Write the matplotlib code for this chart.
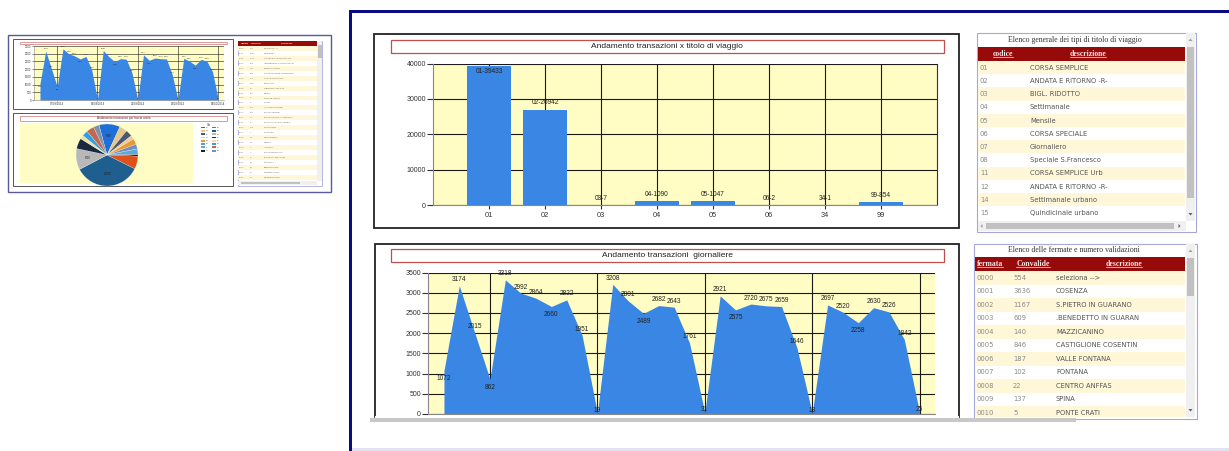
import matplotlib
matplotlib.use("Agg")
import matplotlib.pyplot as plt
from matplotlib.patches import Rectangle, Polygon
import numpy as np

W, H = 1229, 451

# transazioni per titolo di viaggio
codici_titolo = ["01", "02", "03", "04", "05", "06", "34", "99"]
transazioni_titolo = [39433, 26942, 7, 1090, 1047, 2, 1, 854]

# transazioni giornaliere
transazioni_giorno = [1072, 3174, 2015, 862, 3318, 2992, 2864, 2660, 2822, 1951, 19,
                      3208, 2801, 2489, 2682, 2643, 1761, 31,
                      2921, 2575, 2720, 2675, 2659, 1646, 18,
                      2697, 2520, 2258, 2630, 2526, 1842, 25]
date_settimane = ["07/09/2014", "14/09/2014", "21/09/2014", "28/09/2014", "05/10/2014"]

# elenco tipi di titolo
tipi_codice = ["01", "02", "03", "04", "05", "06", "07", "08", "11", "12", "14", "15"]
tipi_descr = ["CORSA SEMPLICE", "ANDATA E RITORNO -R-", "BIGL. RIDOTTO", "Settimanale",
              "Mensile", "CORSA SPECIALE", "Giornaliero", "Speciale S.Francesco",
              "CORSA SEMPLICE Urb", "ANDATA E RITORNO -R-", "Settimanale urbano",
              "Quindicinale urbano"]

# fermate e validazioni
fermate_codice = ["0000", "0001", "0002", "0003", "0004", "0005", "0006", "0007", "0008",
                  "0009", "0010", "0011", "0012", "0013", "0014", "0015", "0016", "0017",
                  "0018", "0019", "0020", "0021", "0022", "0023", "0024", "0025", "0026"]
fermate_convalide = [554, 3636, 1167, 609, 140, 846, 187, 102, 22, 137, 5, 6, 227, 274,
                     78, 8, 253, 4, 58, 147, 1, 3, 15, 90, 59, 41, 36]
fermate_descr = ["seleziona -->", "COSENZA", "S.PIETRO IN GUARANO", ".BENEDETTO IN GUARAN",
                 "MAZZICANINO", "CASTIGLIONE COSENTIN", "VALLE FONTANA", "FONTANA",
                 "CENTRO ANFFAS", "SPINA", "PONTE CRATI", "CUTRI", "AUTOSTAZIONE",
                 "BIVIO SERRE", "BIVIO SCUOLA AGRARIA", "BIVIO CASTROLIBERO", "DUCHIANO",
                 "CUCHIES", "CONCORDIA", "NARDI", "ARANIA", "BIVIO BONIFICA",
                 "BIVIO CAMPAGNE", "ROVELLA", "BUONVICINO", "COMPRANTO", "COMMISSIONI"]

# transazioni per fascia oraria (torta della miniatura)
fasce_ora = ["05", "06", "07", "08", "09", "10", "11", "12",
             "13", "14", "15", "16", "17", "18", "19", "20"]
transazioni_fascia = [7630, 2775, 2430, 1390, 2080, 1735, 2080, 555,
                      4650, 24280, 7630, 3815, 1390, 2080, 2775, 2080]
colori_fascia = ["#1f6fd8", "#e8c888", "#4a5870", "#f0c8a0", "#e89a30", "#7090c0",
                 "#60a8e0", "#202020", "#e0501a", "#1f5f8f", "#b8b8b8", "#1a2840",
                 "#f5e0a0", "#30a0e0", "#c06850", "#8090a8"]

YELLOW = "#fffcc4"
BLUE = "#3a86e4"
ROW_YELLOW = "#fff7d8"
HEAD_RED = "#960a0a"
NAVY = "#0a0a82"

plt.rcParams['font.family'] = ['Liberation Sans', 'DejaVu Sans']

fig = plt.figure(figsize=(W / 100, H / 100), dpi=100)
fig.patch.set_facecolor("white")

bg = fig.add_axes([0, 0, 1, 1], zorder=0)
bg.set_xlim(0, W)
bg.set_ylim(H, 0)
bg.axis("off")


def box(x0, y0, x1, y1):
    return [x0 / W, 1 - y1 / H, (x1 - x0) / W, (y1 - y0) / H]


def rect(x0, y0, x1, y1, fc="none", ec="none", lw=0.7, z=1):
    bg.add_patch(Rectangle((x0, y0), x1 - x0, y1 - y0, facecolor=fc,
                           edgecolor=ec, linewidth=lw, zorder=z))


def area_chart(ax, k, tick_fs, lab_fs, grid_lw, dates):
    vals = transazioni_giorno
    x = np.arange(len(vals))
    ax.set_facecolor(YELLOW)
    ax.fill_between(x, vals, 0, color=BLUE, lw=0, zorder=2)
    ax.set_xlim(-1.04, 32)
    ax.set_ylim(0, 3500)
    ax.set_yticks(range(0, 3501, 500))
    ax.set_xticks(np.arange(3, 32, 7))
    ax.grid(True, color="#1a1a1a", lw=grid_lw)
    ax.set_axisbelow(True)
    for s in ["top", "right"]:
        ax.spines[s].set_visible(False)
    for s in ["left", "bottom"]:
        ax.spines[s].set_color("#888")
        ax.spines[s].set_linewidth(grid_lw)
    ax.tick_params(axis="y", labelsize=tick_fs, colors="#333", length=4 * k,
                   width=grid_lw, pad=1 * k)
    if dates:
        ax.set_xticklabels(date_settimane)
        ax.tick_params(axis="x", labelsize=tick_fs, colors="#333", length=2 * k,
                       width=grid_lw, pad=1)
    else:
        ax.set_xticklabels([])
        ax.tick_params(axis="x", length=0)
    for i, v in enumerate(vals):
        prev = vals[i - 1] if i > 0 else v + 1
        nxt = vals[i + 1] if i < len(vals) - 1 else v + 1
        if v < 100:
            dy = 3
        elif v < prev and v < nxt:
            dy = -8
        else:
            dy = 6
        ax.annotate(str(v), (i, v), xytext=(0, dy * 0.72 * k), textcoords="offset points",
                    ha="center", va="center", fontsize=lab_fs, color="#222",
                    zorder=3, annotation_clip=False)


# ---------- cornice principale ----------
rect(349, 9.5, W + 2, 12.5, fc=NAVY)
rect(348.5, 9.5, 351.5, H + 2, fc=NAVY)
rect(352, 447.5, W + 2, H + 2, fc="#e2e2f2")

# ---------- grafico a barre: titolo di viaggio ----------
rect(374, 33.5, 959, 228, ec="#222", lw=1.3)
rect(391, 39.5, 944, 53, fc="white", ec="#c0504d", lw=0.9)
bg.text(667, 46.5, "Andamento transazioni x titolo di viaggio", ha="center", va="center",
        fontsize=6, color="#222")

axb = fig.add_axes(box(433, 63.5, 937, 205), zorder=1)
axb.set_facecolor(YELLOW)
xb = np.arange(len(codici_titolo))
axb.bar(xb, transazioni_titolo, width=0.8, color=BLUE, zorder=2)
axb.set_xlim(-1, len(codici_titolo))
axb.set_ylim(0, 40000)
axb.set_yticks(range(0, 40001, 10000))
axb.set_xticks(xb)
axb.set_xticklabels(codici_titolo)
axb.grid(True, color="#1a1a1a", lw=0.8)
axb.set_axisbelow(True)
axb.spines["top"].set_visible(False)
axb.spines["right"].set_color("#333")
axb.spines["left"].set_color("#888")
axb.spines["bottom"].set_color("#888")
for s in axb.spines.values():
    s.set_linewidth(0.8)
axb.tick_params(axis="y", labelsize=5, colors="#333", length=4, width=0.8, pad=1)
axb.tick_params(axis="x", labelsize=5.3, colors="#333", length=3, width=0.8, pad=2)
for i, v in enumerate(transazioni_titolo):
    inside = v > 0.9 * 40000
    axb.annotate(f"{codici_titolo[i]}-{v}", (i, v),
                 xytext=(0, -4.5 if inside else 5), textcoords="offset points",
                 ha="center", va="center", fontsize=4.7, color="#222", zorder=3)

# ---------- grafico ad area: transazioni giornaliere ----------
rect(375, 243.5, 959, 417, ec="#222", lw=1.3)
rect(375, 416.2, 959, 420, fc="white", z=2)
rect(391, 248.5, 944, 262, fc="white", ec="#c0504d", lw=0.9)
bg.text(667, 255.3, "Andamento transazioni  giornaliere", ha="center", va="center",
        fontsize=6, color="#222")

axd = fig.add_axes(box(428, 272.5, 935, 414), zorder=1)
area_chart(axd, 1.0, 5, 4.7, 0.8, False)

# barra di scorrimento orizzontale della pagina
rect(370, 417.5, 1076, 421.5, fc="#c8c8c8", z=3)


# ---------- tabelle ----------
def table_frame(x0, y0, x1, y1, title, ty):
    rect(x0, y0, x1, y1, fc="white", ec="#a8a8d8", lw=0.8)
    bg.text((x0 + 1185) / 2 - 6, ty, title, ha="center", va="center", fontsize=5.6,
            family="Liberation Serif", color="#333")


def v_scrollbar(x0, y0, y1, t0, t1):
    rect(x0, y0, x0 + 9, y1, fc="#f0f0f0", z=2)
    rect(x0 + 1, t0, x0 + 8, t1, fc="#c1c1c1", z=3)
    cx = x0 + 4.5
    bg.add_patch(Polygon([[cx - 2, y0 + 8], [cx + 2, y0 + 8], [cx, y0 + 5.5]],
                         closed=True, fc="#a0a0a0", ec="none", zorder=3))
    bg.add_patch(Polygon([[cx - 2, y1 - 8], [cx + 2, y1 - 8], [cx, y1 - 5.5]],
                         closed=True, fc="#606060", ec="none", zorder=3))


headers = []


def header(x0, x1, y0, y1, cols):
    rect(x0, y0, x1, y1, fc=HEAD_RED, z=2)
    for cx, lab in cols:
        t = bg.text(cx, (y0 + y1) / 2, lab, ha="center", va="center", fontsize=5.6,
                    family="Liberation Serif", weight="bold", color="#f6e2e2", zorder=4)
        headers.append(t)


# tabella tipi di titolo
table_frame(977, 32.5, 1196, 232, "Elenco generale dei tipi di titolo di viaggio", 39.5)
header(978, 1185, 47, 61, [(1003, "codice"), (1088, "descrizione")])
for i, (c, d) in enumerate(zip(tipi_codice, tipi_descr)):
    top = 61 + 13.2 * i
    if i % 2 == 0:
        rect(978, top, 1185, top + 13.2, fc=ROW_YELLOW, z=1.5)
    bg.text(980, top + 6.8, c, ha="left", va="center", fontsize=4.9, color="#8a8a8a",
            family="DejaVu Sans", zorder=3)
    bg.text(1030, top + 6.8, d, ha="left", va="center", fontsize=4.9, color="#555",
            family="DejaVu Sans", zorder=3)
v_scrollbar(1186, 33, 221, 47, 198)
rect(978, 221, 1186, 231, fc="#f0f0f0", z=2)
rect(986, 223, 1174, 229, fc="#c1c1c1", z=3)
bg.add_patch(Polygon([[982.5, 224], [982.5, 228], [980.5, 226]], closed=True,
                     fc="#a0a0a0", ec="none", zorder=3))
bg.add_patch(Polygon([[1178.5, 224], [1178.5, 228], [1180.5, 226]], closed=True,
                     fc="#606060", ec="none", zorder=3))

# tabella fermate
table_frame(974, 243.5, 1197, 419, "Elenco delle fermate e numero validazioni", 250.5)
header(975, 1185, 257, 271, [(990, "fermata"), (1033, "Convalide"), (1124, "descrizione")])
for i in range(11):
    top = 271 + 13.5 * i
    if i % 2 == 0:
        rect(975, top, 1185, min(top + 13.5, 417), fc=ROW_YELLOW, z=1.5)
    yc = top + 6.6
    bg.text(976.5, yc, fermate_codice[i], ha="left", va="center", fontsize=4.9,
            color="#8a8a8a", family="DejaVu Sans", zorder=3)
    bg.text(1013, yc, str(fermate_convalide[i]), ha="left", va="center", fontsize=4.9,
            color="#8a8a8a", family="DejaVu Sans", zorder=3)
    bg.text(1056, yc, fermate_descr[i], ha="left", va="center", fontsize=4.9,
            color="#555", family="DejaVu Sans", zorder=3)
v_scrollbar(1186, 244, 417, 258, 296)
rect(973, 417.5, 1076, 421.5, fc="#c8c8c8", z=3)

# ---------- miniatura del cruscotto ----------
rect(7.5, 34.5, 330.5, 191.5, ec="#5a5a9a", lw=1)

# area giornaliera in miniatura
rect(12.5, 38.5, 232.5, 109, ec="#555", lw=0.7)
rect(20, 41.5, 227, 43.5, fc="white", ec="#c0504d", lw=0.4)
axm = fig.add_axes(box(34, 46, 224, 100), zorder=1)
area_chart(axm, 0.38, 2.0, 1.5, 0.4, True)

# torta per fascia oraria
rect(12.5, 112.5, 232.5, 186, ec="#555", lw=0.7)
rect(20, 115.5, 227, 120.5, fc="white", ec="#c0504d", lw=0.4)
bg.text(124, 118, "Andamento transazioni per fascia oraria", ha="center", va="center",
        fontsize=2.2, color="#333")
rect(20, 122.5, 193, 183, fc=YELLOW)
axp = fig.add_axes(box(76, 124, 138, 186), zorder=1)
wedges, _ = axp.pie(transazioni_fascia, colors=colori_fascia, startangle=105,
                    counterclock=False, wedgeprops=dict(linewidth=0.15, edgecolor="white"))
axp.set_xlim(-1, 1)
axp.set_ylim(-1, 1)
axp.set_aspect("equal")
axp.axis("off")
tot = sum(transazioni_fascia)
for w, v in zip(wedges, transazioni_fascia):
    if v / tot > 0.1:
        ang = np.deg2rad((w.theta1 + w.theta2) / 2)
        axp.text(0.62 * np.cos(ang), 0.62 * np.sin(ang), str(v), ha="center", va="center",
                 fontsize=1.9, color="#222")
bg.text(209, 124.5, "Ore", ha="center", va="center", fontsize=1.8, color="#333")
for i, (lab, col) in enumerate(zip(fasce_ora, colori_fascia)):
    cx = 201 if i < 8 else 212
    cy = 127.5 + 3.3 * (i % 8)
    rect(cx, cy - 0.9, cx + 4, cy + 0.9, fc=col)
    bg.text(cx + 5, cy, lab, ha="left", va="center", fontsize=1.6, color="#444")

# tabella fermate in miniatura
rect(237.5, 40.5, 322, 185.5, fc="white", ec="#a8a8d8", lw=0.6)
rect(238, 41, 317, 46, fc=HEAD_RED, z=2)
for cx, lab in [(245, "fermata"), (256, "Convalide"), (287, "descrizione")]:
    bg.text(cx, 43.5, lab, ha="center", va="center", fontsize=1.6, color="#f6e2e2",
            weight="bold", zorder=3)
for i in range(len(fermate_codice)):
    top = 46 + 4.95 * i
    if i % 2 == 0:
        rect(238, top, 317, top + 4.95, fc=ROW_YELLOW, z=1.5)
    yc = top + 2.5
    bg.text(239, yc, fermate_codice[i], ha="left", va="center", fontsize=1.7,
            color="#888", zorder=3)
    bg.text(250, yc, str(fermate_convalide[i]), ha="left", va="center", fontsize=1.7,
            color="#888", zorder=3)
    bg.text(264, yc, fermate_descr[i], ha="left", va="center", fontsize=1.7,
            color="#666", zorder=3)
rect(317, 41, 322, 181, fc="#f0f0f0", z=2)
rect(317.5, 45, 321.5, 58, fc="#c1c1c1", z=3)
rect(238, 181, 317, 185, fc="#f0f0f0", z=2)
rect(241, 182, 300, 184, fc="#c1c1c1", z=3)

# intestazioni sottolineate
fig.canvas.draw()
renderer = fig.canvas.get_renderer()
inv = bg.transData.inverted()
for t in headers:
    bb = t.get_window_extent(renderer)
    (x0, yb), (x1, _) = inv.transform([[bb.x0, bb.y0], [bb.x1, bb.y1]])
    bg.plot([x0, x1], [yb - 1.2, yb - 1.2], color="#f6e2e2", lw=0.5, zorder=4)

fig.savefig("out.png", dpi=100, facecolor="white")
